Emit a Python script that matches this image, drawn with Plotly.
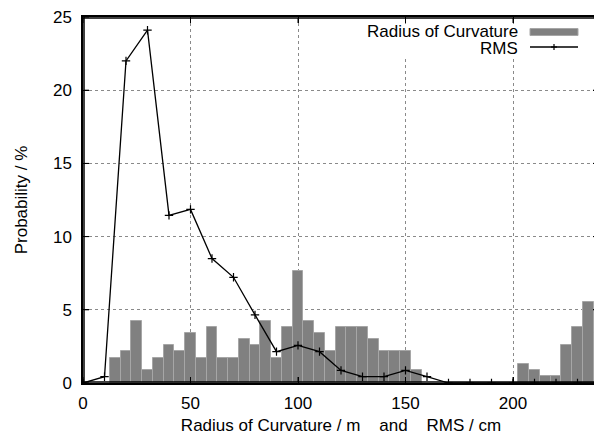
import plotly.graph_objects as go

# Histogram: Radius of Curvature (bin centres, width 5)
roc_x = [15, 20, 25, 30, 35, 40, 45, 50, 55, 60, 65, 70, 75, 80, 85, 90, 95, 100,
         105, 110, 115, 120, 125, 130, 135, 140, 145, 150, 155,
         205, 210, 215, 220, 225, 230, 235, 240]
roc_y = [1.73, 2.16, 4.25, 0.91, 1.73, 2.57, 2.16, 3.41, 1.73, 3.84, 1.73, 1.73, 3.0, 2.57,
         4.25, 1.73, 3.84, 7.64, 4.25, 3.41, 2.16, 3.84, 3.84, 3.84, 3.0, 2.16, 2.16, 2.16, 0.91,
         1.32, 0.91, 0.48, 0.48, 2.57, 3.84, 5.52, 3.41]

# RMS line
rms_x = [0, 10, 20, 30, 40, 50, 60, 70, 80, 90, 100, 110, 120, 130, 140, 150, 160,
         170, 180, 190, 200, 210, 220, 230, 240]
rms_y = [0, 0.43, 22.0, 24.1, 11.45, 11.86, 8.5, 7.22, 4.65, 2.14, 2.57, 2.14, 0.86, 0.43,
         0.43, 0.86, 0.43, 0, 0, 0, 0, 0, 0, 0, 0]

# Axis ticks
x_ticks = [0, 50, 100, 150, 200]
y_ticks = [0, 5, 10, 15, 20, 25]

FONT = "Liberation Sans, Arial, sans-serif"
FS = 17

fig = go.Figure()
fig.add_trace(go.Bar(x=roc_x, y=roc_y, width=5, name="Radius of Curvature",
                     marker=dict(color="#808080", line=dict(color="#a6a6a6", width=1)),
                     showlegend=False))
fig.add_trace(go.Scatter(x=rms_x, y=rms_y, mode="lines+markers", name="RMS",
                         line=dict(color="black", width=1.3),
                         marker=dict(symbol="cross-thin", size=6, color="black",
                                     line=dict(color="black", width=1.2)),
                         showlegend=False))

axis_common = dict(showline=True, linecolor="black", linewidth=1.5, mirror="ticks",
                   ticks="inside", ticklen=6, tickcolor="black", tickwidth=1,
                   showgrid=True, gridcolor="#8a8a8a", griddash="dot", gridwidth=1,
                   zeroline=False, automargin=False, ticklabeloverflow="allow",
                   tickfont=dict(family=FONT, size=FS, color="black"))

fig.update_xaxes(range=[0, 240], tickvals=x_ticks, ticklabelstandoff=4,
                 title=dict(text="Radius of Curvature / m    and    RMS / cm",
                            font=dict(family=FONT, size=FS, color="black"), standoff=7),
                 **axis_common)
fig.update_yaxes(range=[0, 25], tickvals=y_ticks, ticklabelstandoff=6,
                 title=dict(text="Probability / %",
                            font=dict(family=FONT, size=FS, color="black"), standoff=21),
                 **axis_common)

# page has an 8px body margin: figure occupies viewport (8,8)-(602,437)
OFF = 8
W, H = 602 - OFF, 437 - OFF
L, R, T, B = 83 - OFF, 599 - OFF, 17 - OFF, 383 - OFF   # plot area in figure px
PW, PH = R - L, B - T

def px2paper_x(px):
    return (px - OFF - L) / PW

def px2paper_y(py):
    return (B - (py - OFF)) / PH

shapes = [
    # white legend background
    dict(type="rect", xref="paper", yref="paper",
         x0=px2paper_x(362), x1=px2paper_x(589), y0=px2paper_y(57), y1=px2paper_y(24),
         fillcolor="white", line=dict(width=0), layer="above"),
    # legend samples
    dict(type="rect", xref="paper", yref="paper",
         x0=px2paper_x(530), x1=px2paper_x(578), y0=px2paper_y(35.5), y1=px2paper_y(28.5),
         fillcolor="#808080", line=dict(color="#a6a6a6", width=1), layer="above"),
    dict(type="line", xref="paper", yref="paper",
         x0=px2paper_x(530), x1=px2paper_x(578), y0=px2paper_y(47), y1=px2paper_y(47),
         line=dict(color="black", width=1.3), layer="above"),
    dict(type="line", xref="paper", yref="paper",
         x0=px2paper_x(554), x1=px2paper_x(554), y0=px2paper_y(44), y1=px2paper_y(50),
         line=dict(color="black", width=1.2), layer="above"),
    dict(type="line", xref="paper", yref="paper",
         x0=px2paper_x(551), x1=px2paper_x(557), y0=px2paper_y(47), y1=px2paper_y(47),
         line=dict(color="black", width=1.2), layer="above"),
]

# plot frame as four separate lines, inset by one pixel
ix, iy = 1.0 / PW, 1.0 / PH
frame = [(ix, ix, 0, 1), (1 - ix, 1 - ix, 0, 1), (0, 1, iy, iy), (0, 1, 1 - iy, 1 - iy)]
for x0, x1, y0, y1 in frame:
    shapes.append(dict(type="line", xref="paper", yref="paper", x0=x0, x1=x1, y0=y0, y1=y1,
                       line=dict(color="black", width=1.5), layer="above"))

# tick marks (inside, on all four sides)
tl_y, tl_x = 6 / PH, 6 / PW
for v in x_ticks:
    shapes.append(dict(type="line", xref="x", yref="paper", x0=v, x1=v, y0=iy, y1=tl_y,
                       line=dict(color="black", width=1), layer="above"))
    shapes.append(dict(type="line", xref="x", yref="paper", x0=v, x1=v, y0=1 - tl_y,
                       y1=1 - iy, line=dict(color="black", width=1), layer="above"))
for v in y_ticks:
    shapes.append(dict(type="line", xref="paper", yref="y", x0=ix, x1=tl_x, y0=v, y1=v,
                       line=dict(color="black", width=1), layer="above"))
    shapes.append(dict(type="line", xref="paper", yref="y", x0=1 - tl_x, x1=1 - ix,
                       y0=v, y1=v, line=dict(color="black", width=1), layer="above"))

annotations = [
    dict(text="Radius of Curvature", xref="paper", yref="paper", x=px2paper_x(520),
         y=px2paper_y(31), xanchor="right", yanchor="middle", showarrow=False, height=14,
         font=dict(family=FONT, size=FS, color="black")),
    dict(text="RMS", xref="paper", yref="paper", x=px2paper_x(520),
         y=px2paper_y(47.5), xanchor="right", yanchor="middle", showarrow=False, height=14,
         font=dict(family=FONT, size=FS, color="black")),
]

fig.update_layout(width=W, height=H, margin=dict(l=L, r=W - R, t=T, b=H - B, pad=0),
                  paper_bgcolor="white", plot_bgcolor="white", bargap=0,
                  shapes=shapes, annotations=annotations, showlegend=False)

fig.write_html("out.html")
